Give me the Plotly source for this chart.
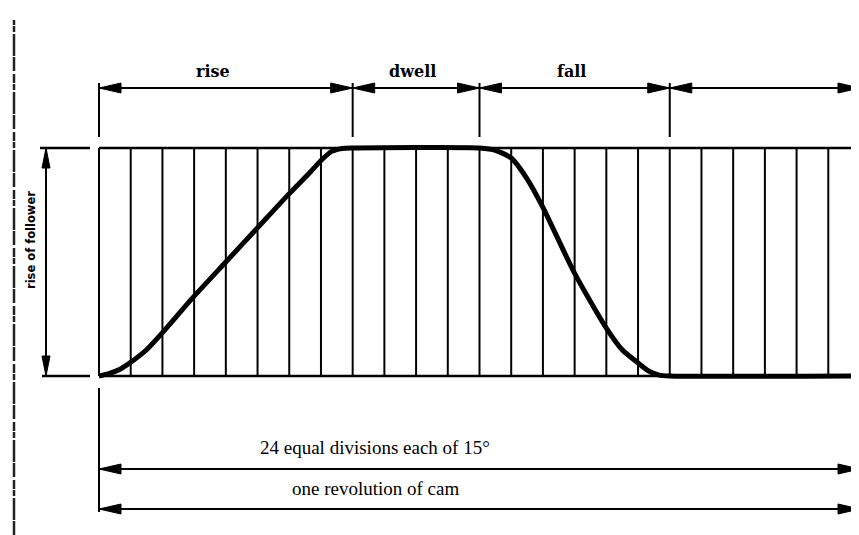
import plotly.graph_objects as go

# ---------------- data ----------------
angle_deg = [0, 5, 10, 15, 22.5, 30, 45, 60, 75, 90, 100, 105, 110, 115, 120,
             180, 187.5, 195, 202.5, 210, 225, 240, 247.5, 255, 260, 265, 270, 360]
rise_of_follower = [0, 0.012, 0.03, 0.06, 0.115, 0.19, 0.35, 0.5, 0.65, 0.80, 0.895, 0.945, 0.985, 0.998, 1,
                    1, 0.99, 0.956, 0.865, 0.74, 0.45, 0.21, 0.115, 0.057, 0.022, 0.004, 0, 0]
phase_names = ["rise", "dwell", "fall", ""]
phase_bounds = [0, 120, 180, 270, 360]
division_deg = 15
n_divisions = 24
bottom_labels = ["24 equal divisions each of 15°", "one revolution of cam"]
y_label = "rise of follower"

# ---------------- layout geometry ----------------
# page body has an 8px margin: figure is placed at (8, 8) in the window
OFF = 8
W, H = 859 - OFF, 535 - OFF
PX_DEG = 761 / 360.0       # pixels per degree
PX_U = 228.0               # pixels per unit rise
X0, Y0 = 99 - OFF, 376 - OFF   # figure pixel of (0 deg, 0 rise)
xr = [-X0 / PX_DEG, (W - X0) / PX_DEG]
yr = [-(H - Y0) / PX_U, Y0 / PX_U]

def px2deg(dpx):
    return dpx / PX_DEG

def px2u(dpx):
    return dpx / PX_U

fig = go.Figure()
BLACK = "#000000"

def add_line(xs, ys, width=2, dash=None, color=BLACK):
    fig.add_trace(go.Scatter(x=xs, y=ys, mode="lines",
                             line=dict(color=color, width=width, dash=dash),
                             hoverinfo="skip", showlegend=False))

def add_head(xt, yt, dx, dy, L=22, hw=5):
    # dx, dy: unit direction (data orientation, y up) pointing to the tip
    bx = xt - px2deg(dx * L)
    by = yt - px2u(dy * L)
    p1 = (bx + px2deg(-dy * hw), by + px2u(dx * hw))
    p2 = (bx - px2deg(-dy * hw), by - px2u(dx * hw))
    fig.add_trace(go.Scatter(x=[xt, p1[0], p2[0], xt], y=[yt, p1[1], p2[1], yt],
                             mode="lines", fill="toself", fillcolor=BLACK,
                             line=dict(color=BLACK, width=1),
                             hoverinfo="skip", showlegend=False))

# vertical division lines
gx, gy = [], []
for i in range(n_divisions):
    d = i * division_deg
    gx += [d, d, None]
    gy += [0, 1, None]
add_line(gx, gy, width=2)
# top and bottom boundary lines
add_line([0, 360, None, 0, 360], [1, 1, None, 0, 0], width=2.5)

# displacement curve
fig.add_trace(go.Scatter(x=angle_deg, y=rise_of_follower, mode="lines",
                         line=dict(color=BLACK, width=5, shape="spline", smoothing=0.6),
                         hoverinfo="skip", showlegend=False))

# ---- top phase dimension ----
y_dim = px2u(376 - 88)
y_ext0, y_ext1 = px2u(376 - 137), px2u(376 - 83)
y_lab = px2u(376 - 71)
label_shift = [-6, -1.5, -1.5, 0]
for b in phase_bounds[:-1]:
    add_line([b, b], [y_ext0, y_ext1], width=2)
add_line([phase_bounds[0], phase_bounds[-1]], [y_dim, y_dim], width=2)
for i in range(len(phase_bounds) - 1):
    a, b = phase_bounds[i], phase_bounds[i + 1]
    add_head(a, y_dim, -1, 0)
    add_head(b, y_dim, 1, 0)
    if phase_names[i]:
        fig.add_annotation(x=(a + b) / 2 + label_shift[i], y=y_lab, text=phase_names[i],
                           showarrow=False, xanchor="center", yanchor="middle",
                           font=dict(family="DejaVu Serif", size=16, color=BLACK, weight="bold"))

# ---- left "rise of follower" dimension ----
x_arr = px2deg(46 - 99)
add_line([px2deg(40 - 99), px2deg(90 - 99)], [1, 1], width=2.5)
add_line([px2deg(42 - 99), px2deg(90 - 99)], [0, 0], width=2.5)
add_line([x_arr, x_arr], [0, 1], width=2)
add_head(x_arr, 1, 0, 1, L=20, hw=4)
add_head(x_arr, 0, 0, -1, L=20, hw=4)
fig.add_annotation(x=px2deg(31 - 99), y=px2u(376 - 240), text=y_label, textangle=-90,
                   showarrow=False, xanchor="center", yanchor="middle",
                   font=dict(family="DejaVu Sans", size=11.5, color=BLACK, weight="bold"))

# scanned page edge
add_line([px2deg(14 - 99), px2deg(14 - 99)], [px2u(376 - 535), px2u(376 - 20)],
         width=2.5, dash="14px,1px,22px,2px,6px,1px,9px,3px", color="#222222")

# ---- bottom dimensions ----
add_line([0, 0], [px2u(376 - 388), px2u(376 - 512)], width=2)
bottom_y = [px2u(376 - 469), px2u(376 - 509)]
text_y = [px2u(376 - 447), px2u(376 - 488)]
for yl, yt, txt in zip(bottom_y, text_y, bottom_labels):
    add_line([phase_bounds[0], phase_bounds[-1]], [yl, yl], width=2)
    add_head(phase_bounds[0], yl, -1, 0)
    add_head(phase_bounds[-1], yl, 1, 0)
    fig.add_annotation(x=px2deg(375 - 99), y=yt, text=txt, showarrow=False,
                       xanchor="center", yanchor="middle",
                       font=dict(family="Liberation Serif", size=19, color=BLACK))

fig.update_layout(
    width=W, height=H,
    margin=dict(l=0, r=0, t=0, b=0),
    paper_bgcolor="white", plot_bgcolor="white",
    xaxis=dict(range=xr, visible=False, fixedrange=True),
    yaxis=dict(range=yr, visible=False, fixedrange=True),
    showlegend=False,
)
fig.write_html("out.html")
